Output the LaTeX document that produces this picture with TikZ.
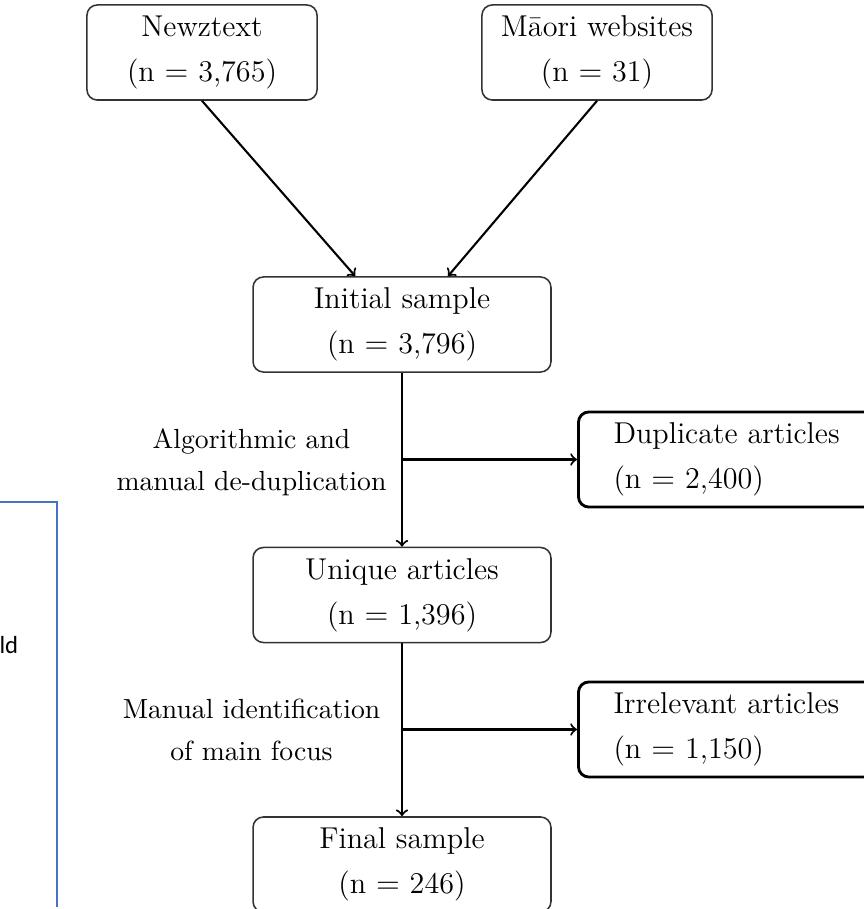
\documentclass[tikz,border=0pt]{standalone}
\usepackage{fontspec}
\newfontfamily\wordfont{Carlito}
\definecolor{wordblue}{HTML}{4472C4}

\begin{document}
\begin{tikzpicture}[x=0.385pt, y=-0.385pt,
    box/.style={draw=black!80, line width=0.6pt, rounded corners=4pt,
      minimum width=114.7pt, minimum height=36.6pt, align=center,
      font=\fontsize{11.6}{14}\selectfont},
    topbox/.style={box, minimum width=88.6pt},
    sidebox/.style={draw, line width=1.1pt, rounded corners=4pt, anchor=west,
      minimum height=36.6pt, text width=94pt, inner xsep=13.5pt, align=left,
      font=\fontsize{11.6}{14}\selectfont},
    steplabel/.style={align=center, font=\fontsize{10.65}{12.8}\selectfont},
    arr/.style={->, line width=0.8pt},
  ]
  \useasboundingbox (0,0) rectangle (864,909);
  \clip (0,0) rectangle (864,909);

  % Define boxes
  \node[topbox] (news) at (202,52.5) {Newztext\\[3.3pt](n $=$ 3,765)};
  \node[topbox] (maori) at (597,52.5) {Māori websites\\[3.3pt](n $=$ 31)};
  \node[box] (init) at (402,324.5) {Initial sample\\[3.3pt](n $=$ 3,796)};
  \node[box] (uniq) at (402,595) {Unique articles\\[3.3pt](n $=$ 1,396)};
  \node[box] (final) at (402,864.5) {Final sample\\[3.3pt](n $=$ 246)};
  \node[sidebox] (dup) at (577,459.5) {Duplicate articles\\[3.3pt](n $=$ 2,400)};
  \node[sidebox] (irr) at (577,729.5) {Irrelevant articles\\[3.3pt](n $=$ 1,150)};

  % Define step labels
  \node[steplabel] (deduplab) at (251.5,462) {Algorithmic and\\[3.4pt]manual de-duplication};
  \node[steplabel] (focuslab) at (251.5,730) {Manual identification\\[3.4pt]of main focus};

  % Define forks
  \coordinate (dupfork) at (init.south |- dup.west);
  \coordinate (irrfork) at (uniq.south |- irr.west);

  % Draw diagram
  \draw[arr] (news.south) -- ([xshift=-18pt]init.north);
  \draw[arr] (maori.south) -- ([xshift=17.7pt]init.north);
  \draw[arr] (init.south) -- (uniq.north);
  \draw[arr] (dupfork) -- (dup.west);
  \draw[arr] (uniq.south) -- (final.north);
  \draw[arr] (irrfork) -- (irr.west);

  % Stray frame on the left
  \draw[wordblue, line width=0.8pt] (0,502) -| (57,907);
  \node[anchor=base west, inner sep=0pt, font=\wordfont\fontsize{9.5}{11}\selectfont] (ld) at (-1,653) {ld};
\end{tikzpicture}
\end{document}
